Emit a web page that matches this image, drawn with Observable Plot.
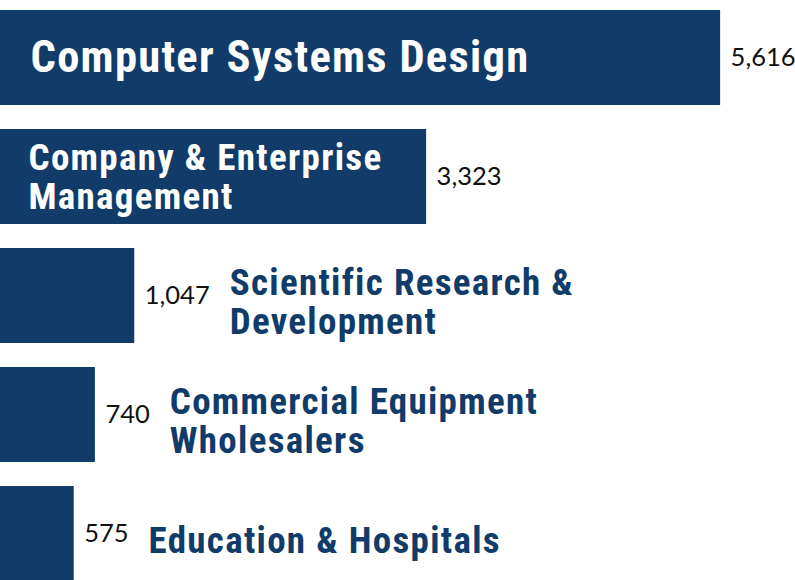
<!DOCTYPE html>
<html>
<head>
<meta charset="utf-8">
<script src="https://cdn.jsdelivr.net/npm/d3@7"></script>
<script src="https://cdn.jsdelivr.net/npm/@observablehq/plot@0.6"></script>
<style>
  html, body { margin: 0; padding: 0; background: #fff; overflow: hidden; }
  #chart svg { display: block; }
  #chart g[font-weight="bold"] { letter-spacing: 1.3px; }
</style>
</head>
<body>
<div id="chart"></div>
<script>
const categories = [
  "Computer Systems Design",
  "Company & Enterprise\nManagement",
  "Scientific Research &\nDevelopment",
  "Commercial Equipment\nWholesalers",
  "Education & Hospitals"
];
const values = [5616, 3323, 1047, 740, 575];

const data = categories.map((c, i) => ({category: c, value: values[i]}));
const fmt = d3.format(",");

const BLUE = "#113c6a";
const LABEL_FONT = "'Roboto Condensed', 'Liberation Sans Narrow', 'DejaVu Sans Condensed', sans-serif";
const VALUE_FONT = "Lato, 'Open Sans', sans-serif";
const VALUE_SIZE = 25.5;

const ctx = document.createElement("canvas").getContext("2d");
ctx.font = `${VALUE_SIZE}px Lato`;
const textW = s => ctx.measureText(s).width;

const inside = data.filter(d => d.value > 2000);
const outside = data.filter(d => d.value <= 2000);

const marks = [
  Plot.barX(data, {x: "value", y: "category", fill: BLUE}),
  Plot.text(data, {
    x: "value", y: "category", text: d => fmt(d.value),
    dx: 10, textAnchor: "start", fontSize: VALUE_SIZE,
    fontFamily: VALUE_FONT, fill: "#111"
  }),
  Plot.text(inside.slice(0, 1), {
    x: 0, y: "category", text: "category", dx: 30, textAnchor: "start",
    fontSize: 44.5, fontWeight: "bold", fontFamily: LABEL_FONT, fill: "white"
  }),
  Plot.text(inside.slice(1), {
    x: 0, y: "category", text: "category", dx: 28, textAnchor: "start",
    fontSize: 37, lineHeight: 1.06, fontWeight: "bold", fontFamily: LABEL_FONT, fill: "white"
  }),
  ...outside.map(d => Plot.text([d], {
    x: "value", y: "category", text: "category",
    dx: 10 + textW(fmt(d.value)) + 20, dy: 6, textAnchor: "start",
    fontSize: 37, lineHeight: 1.06, fontWeight: "bold", fontFamily: LABEL_FONT, fill: BLUE
  }))
];

const chart = Plot.plot({
  width: 795,
  height: 591,
  marginTop: 0, marginBottom: 0, marginLeft: 0, marginRight: 0,
  x: {domain: [0, 6200], axis: null},
  y: {domain: categories, paddingInner: 0.205, paddingOuter: 0.075, axis: null},
  style: {background: "white", overflow: "visible"},
  marks
});
document.getElementById("chart").appendChild(chart);
</script>
</body>
</html>
